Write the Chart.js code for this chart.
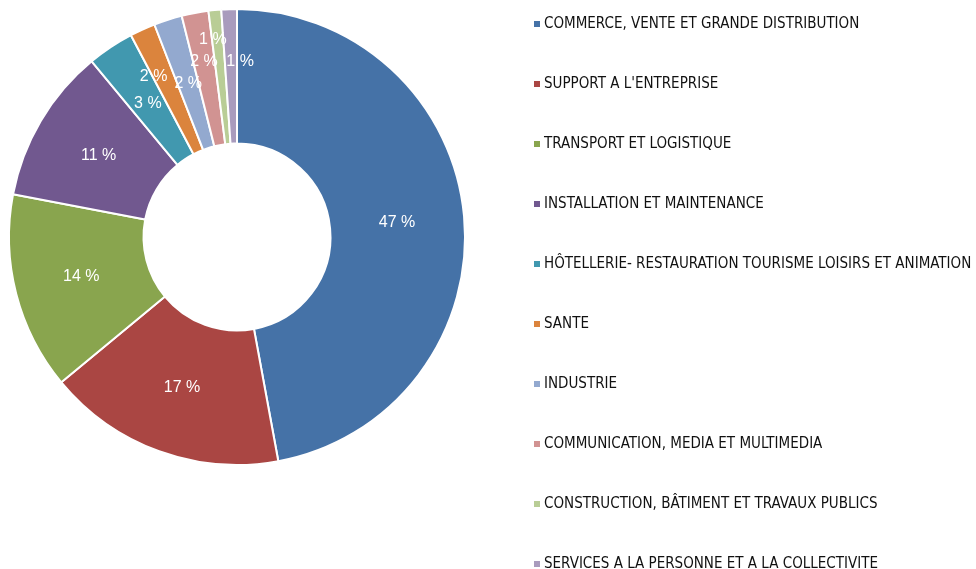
<!DOCTYPE html>
<html>
<head>
<meta charset="utf-8">
<script src="https://cdn.jsdelivr.net/npm/chart.js@4/dist/chart.umd.min.js"></script>
<style>
  html, body { margin: 0; padding: 0; background: #ffffff; }
  #wrap { width: 976px; height: 569px; position: relative; }
</style>
</head>
<body>
<div id="wrap"><canvas id="c" width="976" height="569"></canvas></div>
<script>
const categories = [
  "COMMERCE, VENTE ET GRANDE DISTRIBUTION",
  "SUPPORT A L'ENTREPRISE",
  "TRANSPORT ET LOGISTIQUE",
  "INSTALLATION ET MAINTENANCE",
  "HÔTELLERIE- RESTAURATION TOURISME LOISIRS ET ANIMATION",
  "SANTE",
  "INDUSTRIE",
  "COMMUNICATION, MEDIA ET MULTIMEDIA",
  "CONSTRUCTION, BÂTIMENT ET TRAVAUX PUBLICS",
  "SERVICES A LA PERSONNE ET A LA COLLECTIVITE"
];
const shares = [47.1, 16.9, 14.0, 11.0, 3.3, 1.8, 2.0, 1.9, 0.9, 1.1];
const colors = ["#4572A7", "#AA4643", "#89A54E", "#71588F", "#4198AF",
                "#DB843D", "#93A9CF", "#D19392", "#B9CD96", "#A99BBD"];
// label placement nudges (style only)
const labelRadiusShift = [0, 0, 0, 0, 0, 20, 0, 18, 38, 15];
const labelAngleShift = [0, 0, 0, 0, 0, -3, 0, 0, -1.4, 3];

const total = shares.reduce((a, b) => a + b, 0);

const sliceLabels = {
  id: 'sliceLabels',
  afterDatasetsDraw(chart) {
    const ctx = chart.ctx;
    const meta = chart.getDatasetMeta(0);
    ctx.save();
    ctx.font = '16px "Liberation Sans", Arial, sans-serif';
    ctx.fillStyle = '#ffffff';
    ctx.textAlign = 'center';
    ctx.textBaseline = 'middle';
    meta.data.forEach((arc, i) => {
      const p = arc.getProps(['x', 'y', 'startAngle', 'endAngle', 'innerRadius', 'outerRadius'], true);
      const mid = (p.startAngle + p.endAngle) / 2 + labelAngleShift[i] * Math.PI / 180;
      const r = (p.innerRadius + p.outerRadius) / 2 + labelRadiusShift[i];
      const pct = Math.round(shares[i] / total * 100);
      ctx.fillText(pct + ' %', p.x + Math.cos(mid) * r, p.y + Math.sin(mid) * r);
    });
    ctx.restore();
  }
};

const sideLegend = {
  id: 'sideLegend',
  afterDraw(chart) {
    const ctx = chart.ctx;
    ctx.save();
    ctx.font = '15px "DejaVu Sans Condensed", "DejaVu Sans", sans-serif';
    ctx.textBaseline = 'middle';
    ctx.textAlign = 'left';
    chart.data.labels.forEach((lab, i) => {
      const y = 24 + i * 60;
      ctx.fillStyle = chart.data.datasets[0].backgroundColor[i];
      ctx.fillRect(534, y - 3, 6, 6);
      ctx.fillStyle = '#111111';
      ctx.fillText(lab, 544, y);
    });
    ctx.restore();
  }
};

new Chart(document.getElementById('c'), {
  type: 'doughnut',
  data: {
    labels: categories,
    datasets: [{
      data: shares,
      backgroundColor: colors,
      borderColor: '#ffffff',
      borderWidth: 2,
      hoverOffset: 0
    }]
  },
  options: {
    responsive: false,
    animation: false,
    cutout: '41%',
    layout: { padding: { left: 8, top: 8, right: 510, bottom: 103 } },
    plugins: {
      legend: { display: false },
      tooltip: { enabled: false }
    }
  },
  plugins: [sliceLabels, sideLegend]
});
</script>
</body>
</html>
